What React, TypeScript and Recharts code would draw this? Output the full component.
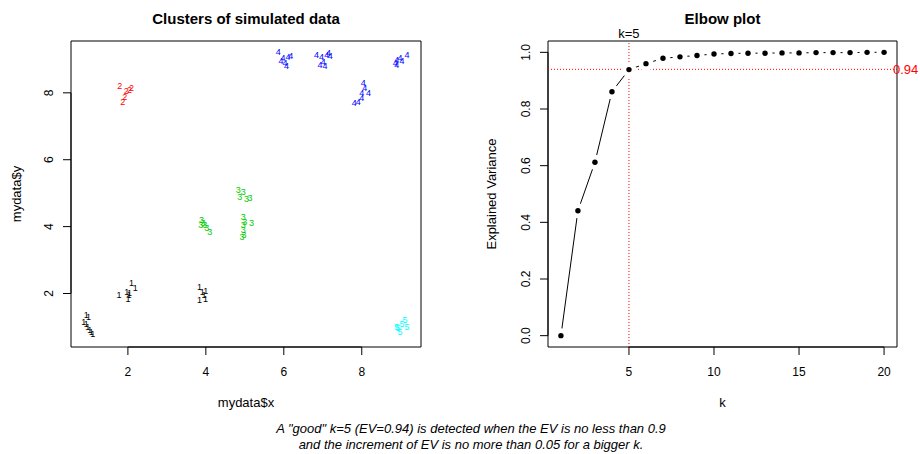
import React from "react";
import {
  ScatterChart,
  Scatter,
  LineChart,
  Line,
  XAxis,
  YAxis,
  ReferenceArea,
  ReferenceLine,
} from "recharts";

const FONT = '"Liberation Sans", Arial, Helvetica, sans-serif';

// Simulated points, [x, y] pairs per cluster
const cluster1 = [
  [0.93, 1.37], [0.99, 1.3], [0.87, 1.15], [0.93, 1.1], [0.97, 1.0], [1.02, 0.92], [1.06, 0.85], [1.1, 0.78],
  [1.77, 1.95], [1.97, 2.05], [2.09, 2.3], [2.19, 2.15], [2.03, 1.95], [2.0, 1.85], [2.04, 2.01],
  [3.84, 2.2], [3.91, 2.05], [3.95, 1.95], [3.99, 1.85], [3.84, 1.8], [4.0, 2.07],
];
const cluster2 = [[1.79, 8.2], [2.09, 8.14], [1.96, 8.04], [1.92, 7.89], [1.87, 7.74], [2.04, 8.09]];
const cluster3 = [
  [3.89, 4.19], [3.93, 4.1], [3.97, 4.04], [4.02, 3.95], [4.1, 3.84], [3.87, 4.04],
  [4.83, 5.09], [4.96, 5.04], [4.87, 4.89], [5.04, 4.84], [5.13, 4.86],
  [4.96, 4.29], [5.0, 4.14], [5.17, 4.1], [4.96, 4.04], [4.96, 3.9], [4.98, 3.75], [4.93, 3.69],
];
const cluster4 = [
  [5.86, 9.23], [5.98, 9.04], [6.11, 9.08], [6.18, 9.1], [6.03, 8.89], [5.93, 8.96], [6.07, 8.81],
  [6.84, 9.14], [6.97, 9.08], [7.1, 9.14], [7.19, 9.1], [7.01, 8.93], [6.93, 8.84], [7.06, 8.81], [7.15, 9.2],
  [8.04, 8.29], [8.08, 8.14], [8.17, 8.01], [8.0, 7.99], [8.0, 7.84], [7.91, 7.74], [7.81, 7.71],
  [8.9, 8.99], [8.98, 9.04], [9.16, 9.14], [8.9, 8.84], [9.03, 8.96], [8.86, 8.9],
];
const cluster5 = [[8.9, 1.0], [9.11, 1.2], [8.98, 0.85], [9.16, 1.0], [9.03, 1.1], [8.93, 0.96]];

const clusters = [cluster1, cluster2, cluster3, cluster4, cluster5];
const clusterColors = ["#000000", "#FF0000", "#00CD00", "#0000FF", "#00FFFF"];

// Elbow curve
const kValues = [1, 2, 3, 4, 5, 6, 7, 8, 9, 10, 11, 12, 13, 14, 15, 16, 17, 18, 19, 20];
const explainedVar = [
  0, 0.441, 0.612, 0.861, 0.939, 0.96, 0.979, 0.984, 0.989, 0.994,
  0.996, 0.997, 0.997, 0.998, 0.998, 0.999, 0.999, 0.999, 1.0, 1.0,
];
const bestK = 5;
const bestEV = 0.94;

const scatterXDomain = [0.54, 9.52];
const scatterYDomain = [0.4, 9.55];
const scatterTicks = [2, 4, 6, 8];
const elbowXDomain = [0.24, 20.76];
const elbowYDomain = [-0.04, 1.04];
const elbowXTicks = [5, 10, 15, 20];
const elbowYTicks = [0, 0.2, 0.4, 0.6, 0.8, 1.0];

const elbowData = kValues.map((k, i) => ({ k, ev: explainedVar[i] }));

// R style tick labels: horizontal below, rotated on the left
const BottomTick = (props: any) => {
  const { x, y, payload } = props;
  return (
    <text x={x} y={y} dy={19} textAnchor="middle" fontSize={12} fill="#000" fontFamily={FONT}>
      {props.fmt ? props.fmt(payload.value) : payload.value}
    </text>
  );
};

const LeftTick = (props: any) => {
  const { x, y, payload } = props;
  const bx = x - 8.4;
  return (
    <text
      x={bx}
      y={y}
      transform={`rotate(-90 ${bx} ${y})`}
      textAnchor="middle"
      fontSize={12}
      fill="#000"
      fontFamily={FONT}
    >
      {props.fmt ? props.fmt(payload.value) : payload.value}
    </text>
  );
};

const fmt1 = (v: number) => v.toFixed(1);

const ElbowDot = (props: any) => {
  const { cx, cy, index } = props;
  return (
    <g key={`dot-${index}`}>
      <circle cx={cx} cy={cy} r={7.5} fill="#fff" />
      <circle cx={cx} cy={cy} r={2.7} fill="#000" />
    </g>
  );
};

function ClusterPanel() {
  return (
    <ScatterChart width={460} height={454} margin={{ top: 41, right: 39, bottom: 67, left: 21 }}>
      <XAxis
        type="number"
        dataKey="x"
        domain={scatterXDomain}
        ticks={scatterTicks}
        allowDataOverflow
        axisLine={false}
        tickSize={8}
        tickLine={{ stroke: "#000" }}
        height={40}
        tick={(p: any) => <BottomTick {...p} />}
      />
      <YAxis
        type="number"
        dataKey="y"
        domain={scatterYDomain}
        ticks={scatterTicks}
        allowDataOverflow
        axisLine={false}
        tickSize={8}
        tickLine={{ stroke: "#000" }}
        width={50}
        tick={(p: any) => <LeftTick {...p} />}
      />
      <ReferenceArea
        x1={scatterXDomain[0]}
        x2={scatterXDomain[1]}
        y1={scatterYDomain[0]}
        y2={scatterYDomain[1]}
        fill="none"
        stroke="#000"
        ifOverflow="visible"
      />
      <ReferenceLine
        segment={[{ x: 2, y: scatterYDomain[0] }, { x: 8, y: scatterYDomain[0] }]}
        stroke="#000"
        ifOverflow="visible"
      />
      <ReferenceLine
        segment={[{ x: scatterXDomain[0], y: 2 }, { x: scatterXDomain[0], y: 8 }]}
        stroke="#000"
        ifOverflow="visible"
      />
      {clusters.map((pts, ci) => (
        <Scatter
          key={`cl-${ci}`}
          data={pts.map(([x, y]) => ({ x, y }))}
          isAnimationActive={false}
          shape={(p: any) => (
            <text
              x={p.cx}
              y={p.cy}
              textAnchor="middle"
              dominantBaseline="central"
              fontSize={9}
              fill={clusterColors[ci]}
              fontFamily={FONT}
            >
              {ci + 1}
            </text>
          )}
        />
      ))}
    </ScatterChart>
  );
}

function ElbowPanel() {
  return (
    <LineChart width={460} height={454} data={elbowData} margin={{ top: 41, right: 23, bottom: 67, left: 38 }}>
      <XAxis
        type="number"
        dataKey="k"
        domain={elbowXDomain}
        ticks={elbowXTicks}
        allowDataOverflow
        axisLine={false}
        tickSize={8}
        tickLine={{ stroke: "#000" }}
        height={40}
        tick={(p: any) => <BottomTick {...p} />}
      />
      <YAxis
        type="number"
        domain={elbowYDomain}
        ticks={elbowYTicks}
        allowDataOverflow
        axisLine={false}
        tickSize={8}
        tickLine={{ stroke: "#000" }}
        width={50}
        tick={(p: any) => <LeftTick {...p} fmt={fmt1} />}
      />
      <ReferenceArea
        x1={elbowXDomain[0]}
        x2={elbowXDomain[1]}
        y1={elbowYDomain[0]}
        y2={elbowYDomain[1]}
        fill="none"
        stroke="#000"
        ifOverflow="visible"
      />
      <ReferenceLine
        segment={[{ x: 5, y: elbowYDomain[0] }, { x: 20, y: elbowYDomain[0] }]}
        stroke="#000"
        ifOverflow="visible"
      />
      <ReferenceLine
        segment={[{ x: elbowXDomain[0], y: 0 }, { x: elbowXDomain[0], y: 1 }]}
        stroke="#000"
        ifOverflow="visible"
      />
      <Line
        type="linear"
        dataKey="ev"
        stroke="#000"
        strokeWidth={1}
        dot={(p: any) => <ElbowDot {...p} />}
        activeDot={false}
        isAnimationActive={false}
      />
      <ReferenceLine
        x={bestK}
        stroke="#FF0000"
        strokeDasharray="1 2"
        label={{ value: `k=${bestK}`, position: "top", offset: 3, fill: "#000", fontSize: 13, fontFamily: FONT }}
      />
      <ReferenceLine
        y={bestEV}
        stroke="#FF0000"
        strokeDasharray="1 2"
        label={{ value: `${bestEV}`, position: "right", offset: -4, fill: "#FF0000", fontSize: 13, fontFamily: FONT }}
      />
    </LineChart>
  );
}

export default function App() {
  return (
    <div style={{ position: "absolute", left: 0, top: 0, width: 920, height: 454, background: "#fff", fontFamily: FONT }}>
      <div style={{ position: "absolute", left: 0, top: 0 }}>
        <ClusterPanel />
      </div>
      <div style={{ position: "absolute", left: 460, top: 0 }}>
        <ElbowPanel />
      </div>
      <svg width={920} height={454} style={{ position: "absolute", left: 0, top: 0, pointerEvents: "none" }} fontFamily={FONT}>
        <text x={246} y={24} textAnchor="middle" fontSize={15} fontWeight="bold">Clusters of simulated data</text>
        <text x={722.5} y={24} textAnchor="middle" fontSize={15} fontWeight="bold">Elbow plot</text>
        <text x={246} y={407} textAnchor="middle" fontSize={13}>mydata$x</text>
        <text x={722.5} y={407} textAnchor="middle" fontSize={13}>k</text>
        <text x={21} y={194} transform="rotate(-90 21 194)" textAnchor="middle" fontSize={13}>mydata$y</text>
        <text x={496} y={194} transform="rotate(-90 496 194)" textAnchor="middle" fontSize={13}>Explained Variance</text>
        <text x={471} y={433} textAnchor="middle" fontSize={13} fontStyle="italic">
          A "good" k=5 (EV=0.94) is detected when the EV is no less than 0.9
        </text>
        <text x={471} y={449} textAnchor="middle" fontSize={13} fontStyle="italic">
          and the increment of EV is no more than 0.05 for a bigger k.
        </text>
      </svg>
    </div>
  );
}
